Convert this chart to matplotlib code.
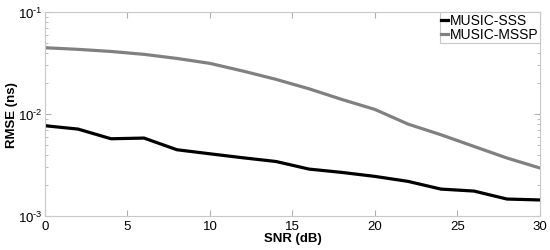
import matplotlib
matplotlib.use("Agg")
import matplotlib.pyplot as plt
import numpy as np
from matplotlib.ticker import LogLocator, FixedLocator, FuncFormatter

plt.rcParams['font.family'] = ['Liberation Sans', 'DejaVu Sans']
plt.rcParams['mathtext.fontset'] = 'custom'
plt.rcParams['mathtext.rm'] = 'Liberation Sans'
plt.rcParams['mathtext.it'] = 'Liberation Sans'
plt.rcParams['mathtext.bf'] = 'Liberation Sans:bold'

snr = [0, 2, 4, 6, 8, 10, 12, 14, 16, 18, 20, 22, 24, 26, 28, 30]
rmse_sss = [0.00769, 0.00713, 0.00573, 0.00582, 0.00447, 0.00408, 0.00373, 0.00343,
            0.00289, 0.00268, 0.00245, 0.00219, 0.00184, 0.00176, 0.00147, 0.00144]
rmse_mssp = [0.0447, 0.0431, 0.0411, 0.0385, 0.0351, 0.0314, 0.0264, 0.0219,
             0.0177, 0.0139, 0.0111, 0.00798, 0.00627, 0.00482, 0.00371, 0.00296]
xticks = [0, 5, 10, 15, 20, 25, 30]


def log_fmt(v, pos):
    e = int(round(np.log10(v)))
    return r'$10^{\text{%d}}$' % e


fig = plt.figure(figsize=(5.5, 2.51), dpi=100)
ax = fig.add_axes([0.0818, 0.135, 0.9, 0.813])
ax.plot(snr, rmse_sss, color='black', lw=2.3, label='MUSIC-SSS')
ax.plot(snr, rmse_mssp, color='#808080', lw=2.3, label='MUSIC-MSSP')
ax.set_yscale('log')
ax.set_xlim(0, 30)
ax.set_ylim(1e-3, 1e-1)
ax.xaxis.set_major_locator(FixedLocator(xticks))
ax.yaxis.set_major_locator(LogLocator(base=10, numticks=5))
ax.yaxis.set_major_formatter(FuncFormatter(log_fmt))
ax.yaxis.set_minor_locator(LogLocator(base=10, subs=range(2, 10), numticks=10))
for s in ax.spines.values():
    s.set_color('#c8c8c8')
    s.set_linewidth(0.8)
ax.tick_params(which='both', direction='in', top=True, right=True, color='#b0b0b0', labelsize=9.5)
ax.tick_params(axis='x', pad=2.5)
ax.tick_params(axis='y', pad=1.5)
ax.tick_params(which='major', length=4)
ax.tick_params(which='minor', length=2)
ax.set_xlabel('SNR (dB)', fontweight='bold', fontsize=9.5, labelpad=0)
ax.set_ylabel('RMSE (ns)', fontweight='bold', fontsize=9.5)
ax.yaxis.set_label_coords(-0.055, 0.5)
leg = ax.legend(loc='upper right', fontsize=10, handlelength=0.5, handletextpad=0.15,
                borderpad=0.1, labelspacing=0.0, borderaxespad=0.0, fancybox=False, framealpha=1)
leg.get_frame().set_edgecolor('#c8c8c8')
leg.get_frame().set_linewidth(0.8)
fig.savefig('out.png', dpi=100)
